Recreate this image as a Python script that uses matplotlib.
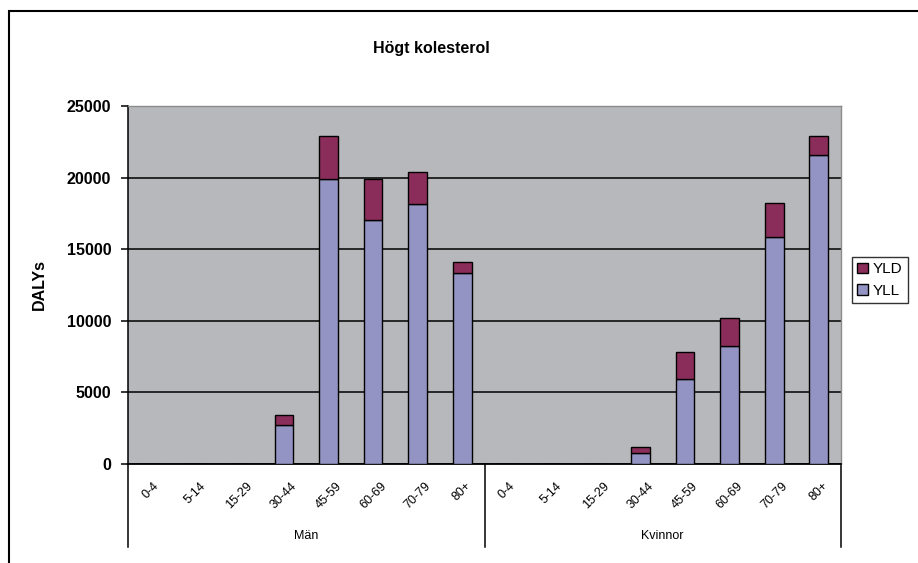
import matplotlib.pyplot as plt
import numpy as np
from matplotlib.patches import Rectangle

plt.rcParams['font.family'] = ['Liberation Sans', 'DejaVu Sans']

# ---- data ----
aldrar = ["0-4", "5-14", "15-29", "30-44", "45-59", "60-69", "70-79", "80+"]
grupper = ["Män", "Kvinnor"]
yll_man = [0, 0, 0, 2730, 19870, 17010, 18130, 13320]
yld_man = [0, 0, 0, 700, 3030, 2900, 2290, 810]
yll_kvinnor = [0, 0, 0, 770, 5960, 8250, 15850, 21550]
yld_kvinnor = [0, 0, 0, 440, 1870, 1960, 2380, 1350]
yticks = [0, 5000, 10000, 15000, 20000, 25000]

yll = np.array(yll_man + yll_kvinnor)
yld = np.array(yld_man + yld_kvinnor)
labels = aldrar + aldrar
x = np.arange(len(labels))

fig = plt.figure(figsize=(9.18, 5.63), dpi=100)
ax = fig.add_axes([128 / 918, 1 - 464 / 563, (841 - 128) / 918, (464 - 106) / 563])
ax.set_facecolor("#b7b8bb")

# outer frame of the chart (cut off at right/bottom like the source)
fig.patches.append(Rectangle((9 / 918, -0.1), 1.1, 1 - 11 / 563 + 0.1,
                             transform=fig.transFigure, fill=False,
                             edgecolor="black", linewidth=1.5))

ax.set_axisbelow(True)
ax.yaxis.grid(True, color="black", linewidth=1.1)
ax.bar(x, yll, width=0.42, color="#9494c4", edgecolor="black", linewidth=1.0, label="YLL", zorder=3)
ax.bar(x, yld, width=0.42, bottom=yll, color="#8b2d5a", edgecolor="black", linewidth=1.0, label="YLD", zorder=3)

ax.set_xlim(-0.5, len(labels) - 0.5)
ax.set_ylim(0, 25000)
ax.set_yticks(yticks)
ax.tick_params(axis="y", direction="out", length=5, width=1.1, pad=7, labelsize=11.5)
for t in ax.get_yticklabels():
    t.set_fontweight("bold")
ax.set_xticks([])

ax.spines["left"].set_linewidth(1.1)
ax.spines["bottom"].set_linewidth(1.3)
for s in ["top", "right"]:
    ax.spines[s].set_color("#8c8c8c")
    ax.spines[s].set_linewidth(1.0)

# rotated age labels
xt = ax.get_xaxis_transform()
for xi, lab in zip(x, labels):
    ax.text(xi, -0.045, lab, transform=xt, rotation=45, ha="center", va="top",
            fontsize=9)

# group separators and group labels
for xs in [-0.5, 7.5, 15.5]:
    ax.plot([xs, xs], [0, -0.233], transform=xt, color="black", linewidth=1.1, clip_on=False)
for i, g in enumerate(grupper):
    ax.text(3.5 + 8 * i, -0.201, g, transform=xt, ha="center", va="center", fontsize=9)

ax.set_ylabel("DALYs", fontsize=11.5, fontweight="bold", labelpad=14)
fig.text(431 / 918, 1 - 48 / 563, "Högt kolesterol", ha="center", va="center",
         fontsize=11.5, fontweight="bold")

h, l = ax.get_legend_handles_labels()
leg = fig.legend(h[::-1], l[::-1], loc="upper left", bbox_to_anchor=(852 / 918, 1 - 257 / 563),
                 frameon=True, fancybox=False, edgecolor="black", fontsize=11,
                 handlelength=0.7, handleheight=0.7, handletextpad=0.3,
                 borderpad=0.35, labelspacing=0.5, borderaxespad=0)
leg.get_frame().set_linewidth(1.0)

fig.savefig("out.png", dpi=100)
